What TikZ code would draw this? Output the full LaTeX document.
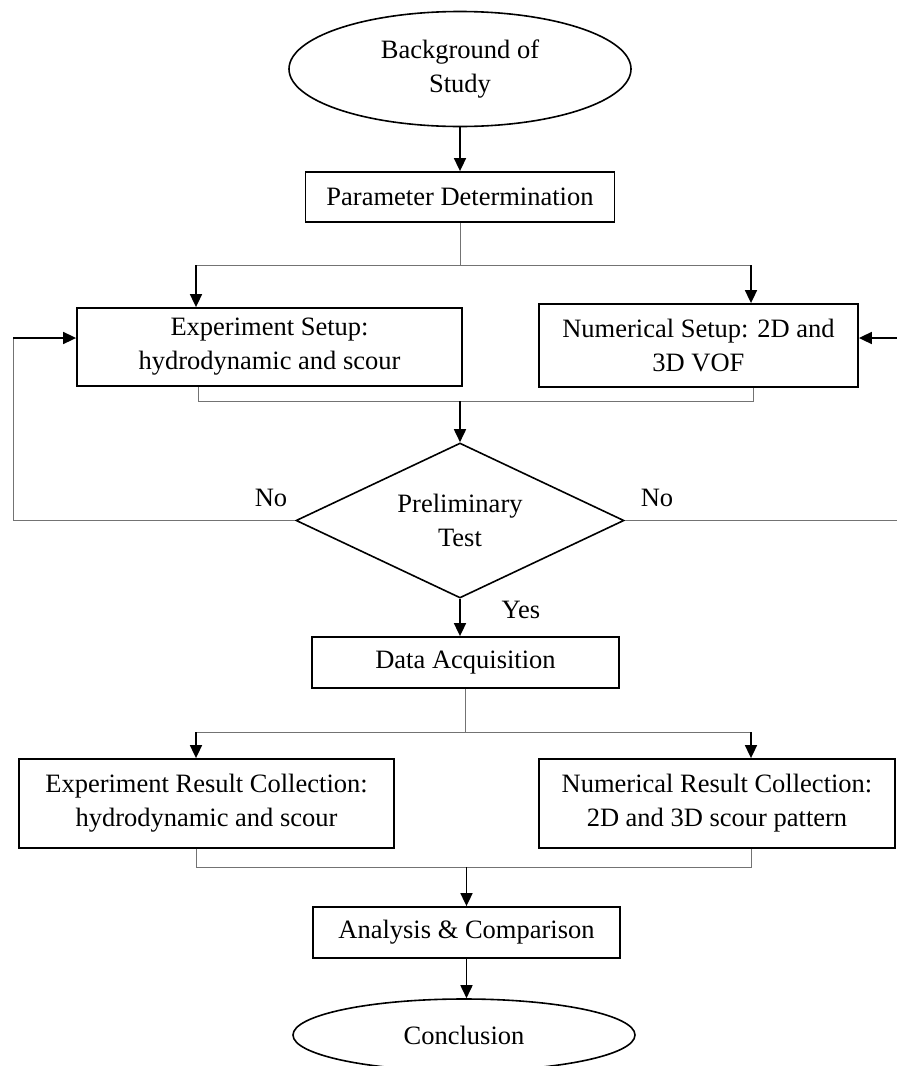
\documentclass[tikz,border=0pt]{standalone}
\usepackage{fontspec}
\setmainfont{Liberation Serif}
\usetikzlibrary{arrows,arrows.meta}
\usetikzlibrary{shapes}
\tikzset{
        flownode/.style={align=center,inner sep=0pt,font=\fontsize{13.25}{17}\selectfont},
        % Start and end nodes
        node_terminal/.style={flownode, ellipse, draw=black, line width=0.8pt, minimum width=171pt},
        % Process nodes
        node_process/.style={flownode, rectangle, draw=black, line width=0.9pt},
        % Decision nodes
        node_decision/.style={flownode, diamond, aspect=2, draw=black, line width=0.8pt, minimum width=164pt, minimum height=77.5pt},
        % Joining lines
        line_plain/.style={draw=black!55, line width=0.5pt},
        % Arrow lines
        line_arrow/.style={draw=black, line width=0.85pt, -{Triangle[length=6.5pt,width=6pt]}},
        % Branch labels
        label_branch/.style={inner sep=0pt, font=\fontsize{13.25}{17}\selectfont}
}

\begin{document}
\begin{tikzpicture}[x=0.5pt, y=-0.5pt]
            \useasboundingbox (0,0) rectangle (897,1066);
            \node[node_terminal, minimum height=57.5pt] (bg_study) at (460,69) {Background of\\Study};
            \node[node_process, minimum width=154.5pt, minimum height=25pt] (param_det) at (460,197) {Parameter Determination};
            \node[node_process, minimum width=192.5pt, minimum height=39pt] (exp_setup) at (269.5,347) {Experiment Setup:\\hydrodynamic and scour};
            \node[node_process, minimum width=159.5pt, minimum height=41.5pt] (num_setup) at (698.5,345.5) {Numerical Setup: 2D and\\3D VOF};
            \node[node_decision] (prelim_test) at (460,520.5) {Preliminary\\Test};
            \node[node_process, minimum width=153.5pt, minimum height=25.5pt] (data_acq) at (465.5,662.5) {Data Acquisition};
            \node[node_process, minimum width=187.5pt, minimum height=44.5pt] (exp_result) at (206.5,803.5) {Experiment Result Collection:\\hydrodynamic and scour};
            \node[node_process, minimum width=178pt, minimum height=44.5pt] (num_result) at (717,803.5) {Numerical Result Collection:\\2D and 3D scour pattern};
            \node[node_process, minimum width=153.5pt, minimum height=25.5pt] (analysis) at (466.5,932.5) {Analysis \& Comparison};
            \node[node_terminal, minimum height=36pt] (conclusion) at (464,1035) {Conclusion};

            % branch points
            \coordinate (fork_top) at (460,265);
            \coordinate (fork_top_l) at (196,265);
            \coordinate (fork_top_r) at (751,265);
            \coordinate (merge_top) at (460,401);
            \coordinate (merge_top_l) at (198,401);
            \coordinate (merge_top_r) at (753,401);
            \coordinate (loop_l_bottom) at (13,520.5);
            \coordinate (loop_l_top) at (13,338);
            \coordinate (loop_r_bottom) at (899,520.5);
            \coordinate (loop_r_top) at (899,338);
            \coordinate (fork_mid) at (465.5,732);
            \coordinate (fork_mid_l) at (196,732);
            \coordinate (fork_mid_r) at (751,732);
            \coordinate (merge_bot) at (466.5,867);
            \coordinate (merge_bot_l) at (196,867);
            \coordinate (merge_bot_r) at (751,867);

            \draw[line_arrow] (bg_study) -- (param_det);
            \draw[line_plain] (param_det) -- (fork_top);
            \draw[line_plain] (fork_top_l) -- (fork_top_r);
            \draw[line_arrow] (fork_top_l) -- (fork_top_l |- exp_setup.north);
            \draw[line_arrow] (fork_top_r) -- (fork_top_r |- num_setup.north);
            \draw[line_plain] (merge_top_l |- exp_setup.south) -- (merge_top_l) -- (merge_top_r) -- (merge_top_r |- num_setup.south);
            \draw[line_arrow] (merge_top) -- (prelim_test.north);

            % loops back on No
            \draw[line_plain] (prelim_test.west) -- (loop_l_bottom) -- (loop_l_top);
            \draw[line_arrow] (loop_l_top) -- (loop_l_top -| exp_setup.west);
            \draw[line_plain] (prelim_test.east) -- (loop_r_bottom) -- (loop_r_top);
            \draw[line_arrow] (loop_r_top) -- (loop_r_top -| num_setup.east);
            \node[label_branch] (no_left) at (271,498) {No};
            \node[label_branch] (no_right) at (657,498) {No};

            \draw[line_arrow] (prelim_test.south) -- (prelim_test.south |- data_acq.north);
            \node[label_branch] (yes_label) at (521,610) {Yes};

            \draw[line_plain] (data_acq) -- (fork_mid);
            \draw[line_plain] (fork_mid_l) -- (fork_mid_r);
            \draw[line_arrow] (fork_mid_l) -- (fork_mid_l |- exp_result.north);
            \draw[line_arrow] (fork_mid_r) -- (fork_mid_r |- num_result.north);
            \draw[line_plain] (merge_bot_l |- exp_result.south) -- (merge_bot_l) -- (merge_bot_r) -- (merge_bot_r |- num_result.south);
            \draw[line_arrow] (merge_bot) -- (merge_bot |- analysis.north);
            \draw[line_arrow] (analysis.south) -- (analysis.south |- conclusion.north);
        \end{tikzpicture}
\end{document}
